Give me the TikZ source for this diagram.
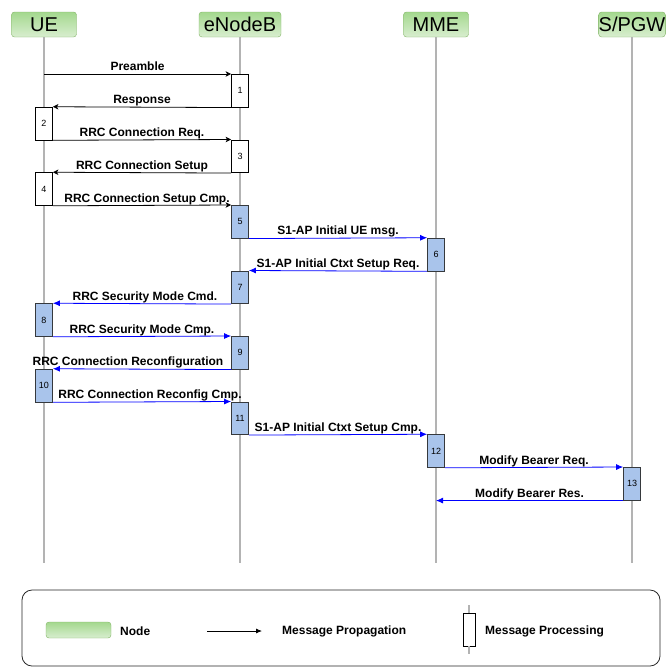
\documentclass[tikz,border=0pt]{standalone}
\usepackage{fontspec}
\setmainfont{Liberation Sans}
\usepackage{tikz}
\usetikzlibrary{arrows.meta}
\definecolor{greenedge}{HTML}{82B366}
\definecolor{greentop}{HTML}{A4D88E}
\definecolor{greenbot}{HTML}{D8EECF}
\definecolor{procblue}{HTML}{A9C4EB}
\definecolor{procedge}{HTML}{36393D}
\definecolor{lifegray}{HTML}{B3B3B3}
\newcommand{\pbox}[4]{\node(p#1)[#2] at (#3.south |- 0,#4) {#1}}
\newcommand{\msg}[5]{\draw[#1] (#2) -- (#3) node[msglabel,#4]{#5}}

\begin{document}
\begin{tikzpicture}[
        x=1pt, y=-1pt,
        every node/.style={font=\bfseries\fontsize{12}{14}\selectfont},
        head/.style={rectangle,rounded corners=3pt,draw=greenedge,top color=greentop,
                     bottom color=greenbot,minimum width=65pt,minimum height=25pt,inner sep=0pt,
                     font=\fontsize{20}{24}\selectfont},
        lifeline/.style={draw=lifegray,line width=2.5pt},
        plain/.style={rectangle,draw=black,fill=white,line width=0.8pt,anchor=north,
                      minimum width=17pt,minimum height=32.75pt,inner sep=0pt,
                      font=\fontsize{9}{10}\selectfont},
        proc/.style={plain,fill=procblue,draw=procedge},
        sig/.style={-{Stealth[length=5.5pt,width=5.5pt,inset=1.5pt]},line width=0.8pt,black},
        bsig/.style={-{Latex[length=7pt,width=6pt]},line width=0.8pt,blue},
        msglabel/.style={midway,above,inner sep=0.5pt,text depth=2.5pt,text=black},
        legendtext/.style={anchor=west,inner sep=0pt,font=\bfseries\fontsize{12}{14}\selectfont}
      ]
      \useasboundingbox (0,0) rectangle (668,667);

      % The four network entities and their lifelines
      \node(ue)[head] at (44,24.5) {UE};
      \node(enb)[head,minimum width=82pt] at (240,24.5) {eNodeB};
      \node(mme)[head] at (436,24.5) {MME};
      \node(gw)[head] at (632,24.5) {S/PGW};
      \foreach \n in {ue,enb,mme,gw}
        \draw[lifeline] (\n.south) -- (\n.south |- 0,563);

      % Processing boxes: 1-4 white, 5-13 blue
      \pbox{1}{plain}{enb}{74};
      \pbox{2}{plain}{ue}{106.75};
      \pbox{3}{plain}{enb}{139.5};
      \pbox{4}{plain}{ue}{172.25};
      \pbox{5}{proc}{enb}{205};
      \pbox{6}{proc}{mme}{237.75};
      \pbox{7}{proc}{enb}{270.5};
      \pbox{8}{proc}{ue}{303.25};
      \pbox{9}{proc}{enb}{336};
      \pbox{10}{proc}{ue}{368.75};
      \pbox{11}{proc}{enb}{401.5};
      \pbox{12}{proc}{mme}{434.25};
      \pbox{13}{proc}{gw}{467};

      % Messages between the boxes
      \msg{sig}{ue.south |- p1.north}{p1.north west}{}{Preamble};
      \msg{sig}{p1.south west}{p2.north east}{}{Response};
      \msg{sig}{p2.south east}{p3.north west}{}{RRC Connection Req.};
      \msg{sig}{p3.south west}{p4.north east}{}{RRC Connection Setup};
      \msg{sig}{p4.south east}{p5.north west}{xshift=5pt}{RRC Connection Setup Cmp.};
      \msg{bsig}{p5.south east}{p6.north west}{}{S1-AP Initial UE msg.};
      \msg{bsig}{p6.south west}{p7.north east}{}{S1-AP Initial Ctxt Setup Req.};
      \msg{bsig}{p7.south west}{p8.north east}{xshift=3pt}{RRC Security Mode Cmd.};
      \msg{bsig}{p8.south east}{p9.north west}{}{RRC Security Mode Cmp.};
      \msg{bsig}{p9.south west}{p10.north east}{xshift=-14pt}{RRC Connection Reconfiguration};
      \msg{bsig}{p10.south east}{p11.north west}{xshift=8pt}{RRC Connection Reconfig Cmp.};
      \msg{bsig}{p11.south east}{p12.north west}{}{S1-AP Initial Ctxt Setup Cmp.};
      \msg{bsig}{p12.south east}{p13.north west}{}{Modify Bearer Req.};
      \msg{bsig}{p13.south west}{mme.south |- p13.south}{}{Modify Bearer Res.};

      % Legend
      \node(legend)[draw=black!85,line width=0.8pt,rounded corners=10pt,
                    minimum width=638pt,minimum height=76pt] at (341,628) {};
      \node(lgnode)[head,minimum height=16pt] at (78.5,630) {};
      \node(lgnodetext)[legendtext] at (120,631) {Node};
      \coordinate (lgfrom) at (207,631);
      \coordinate (lgto) at (262,631);
      \draw[-{Latex[length=6pt,width=5pt]},line width=0.8pt] (lgfrom) -- (lgto);
      \node(lgmsgtext)[legendtext] at (282,631) {Message Propagation};
      \node(lgproc)[plain,anchor=center,minimum width=12pt,minimum height=33pt] at (469,629.5) {};
      \draw[lifeline] (lgproc.north) -- ++(0,-8);
      \draw[lifeline] (lgproc.south) -- ++(0,8);
      \node(lgproctext)[legendtext] at (485,631) {Message Processing};
    \end{tikzpicture}
\end{document}
